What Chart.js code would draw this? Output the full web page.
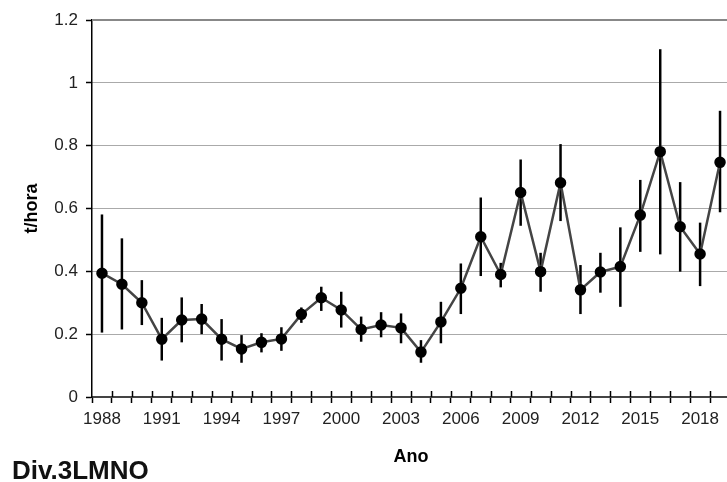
<!DOCTYPE html>
<html>
<head>
<meta charset="utf-8">
<script src="https://cdn.jsdelivr.net/npm/chart.js@4/dist/chart.umd.min.js"></script>
<style>
  html, body { margin: 0; padding: 0; background: #fff; overflow: hidden; }
  #wrap { position: relative; width: 727px; height: 482px; overflow: hidden; }
  #c { display: block; }
  #div-label { position: absolute; left: 12px; top: 455px; font: bold 26px "Liberation Sans", Arial, sans-serif; line-height: 30px; color: #111; }
</style>
</head>
<body>
<div id="wrap">
  <canvas id="c" width="737" height="482"></canvas>
  <div id="div-label">Div.3LMNO</div>
</div>
<script>
  const years = ['1988','1989','1990','1991','1992','1993','1994','1995','1996','1997','1998','1999','2000','2001','2002','2003',
                 '2004','2005','2006','2007','2008','2009','2010','2011','2012','2013','2014','2015','2016','2017','2018','2019'];
  const mean  = [0.394,0.359,0.300,0.184,0.245,0.248,0.184,0.153,0.174,0.185,0.263,0.316,0.277,0.215,0.229,0.220,
                 0.143,0.239,0.346,0.510,0.390,0.651,0.399,0.682,0.341,0.398,0.415,0.579,0.781,0.542,0.455,0.747];
  const lower = [0.205,0.215,0.229,0.116,0.174,0.200,0.116,0.109,0.142,0.147,0.236,0.274,0.221,0.176,0.190,0.171,
                 0.109,0.171,0.264,0.385,0.349,0.545,0.335,0.560,0.264,0.332,0.287,0.462,0.454,0.399,0.353,0.588];
  const upper = [0.581,0.505,0.372,0.252,0.317,0.296,0.248,0.197,0.203,0.222,0.285,0.351,0.335,0.256,0.270,0.266,
                 0.181,0.303,0.425,0.635,0.427,0.756,0.459,0.805,0.420,0.459,0.540,0.691,1.107,0.684,0.555,0.911];
  const yTicks = [0, 0.2, 0.4, 0.6, 0.8, 1, 1.2];

  // vertical error bars, drawn under the line and markers
  const errorBars = {
    id: 'errorBars',
    beforeDatasetsDraw(chart){
      const x = chart.scales.x, y = chart.scales.y, ctx = chart.ctx;
      ctx.save();
      ctx.strokeStyle = '#000';
      ctx.lineWidth = 2.5;
      years.forEach((yr, i) => {
        const px = x.getPixelForValue(i);
        ctx.beginPath();
        ctx.moveTo(px, y.getPixelForValue(lower[i]));
        ctx.lineTo(px, y.getPixelForValue(upper[i]));
        ctx.stroke();
      });
      ctx.restore();
    }
  };

  // solid top gridline and x ticks crossing the axis
  const axisExtras = {
    id: 'axisExtras',
    afterDraw(chart){
      const x = chart.scales.x, y = chart.scales.y, ctx = chart.ctx, a = chart.chartArea;
      ctx.save();
      const top = y.getPixelForValue(yTicks[yTicks.length-1]);
      ctx.strokeStyle = '#888';
      ctx.lineWidth = 2;
      ctx.beginPath(); ctx.moveTo(a.left, top); ctx.lineTo(a.right, top); ctx.stroke();
      ctx.strokeStyle = '#000';
      ctx.lineWidth = 1.5;
      const half = (x.getPixelForValue(1) - x.getPixelForValue(0)) / 2;
      for (let i = 0; i < years.length; i++) {
        const px = Math.round(x.getPixelForValue(i) + half) + 0.5;
        ctx.beginPath(); ctx.moveTo(px, a.bottom - 6); ctx.lineTo(px, a.bottom); ctx.stroke();
      }
      ctx.restore();
    }
  };

  const tickFont = { family: '"Liberation Sans", Arial, sans-serif', size: 17 };

  new Chart(document.getElementById('c'), {
    type: 'line',
    data: {
      labels: years,
      datasets: [{
        data: mean,
        borderColor: '#444',
        borderWidth: 2.5,
        pointBackgroundColor: '#000',
        pointBorderColor: '#000',
        pointRadius: 4.5,
        pointHoverRadius: 4.5,
        tension: 0
      }]
    },
    options: {
      responsive: false,
      animation: false,
      layout: { padding: { top: 20, left: 0, right: 0, bottom: 0 } },
      plugins: { legend: { display: false }, tooltip: { enabled: false } },
      scales: {
        x: {
          type: 'category',
          offset: true,
          afterFit(s){ s.height = 85; },
          grid: { offset: true, drawOnChartArea: false, drawTicks: true, tickLength: 6, tickColor: '#000', tickWidth: 1.5 },
          border: { color: '#444', width: 2 },
          ticks: {
            autoSkip: false, maxRotation: 0, padding: 6, color: '#222', font: tickFont,
            callback(v, i){ return i % 3 === 0 ? years[i] : ''; }
          },
          title: { display: true, text: 'Ano', color: '#000', font: { family: '"Liberation Sans", Arial, sans-serif', size: 18, weight: 'bold' }, padding: { top: 0, bottom: 14 } }
        },
        y: {
          min: 0, max: 1.2,
          afterFit(s){ s.width = 92; },
          afterBuildTicks(s){ s.ticks = yTicks.map(v => ({ value: v })); },
          grid: {
            color: c => (c.tick && (c.tick.value === 0 || c.tick.value === 1.2)) ? 'rgba(0,0,0,0)' : '#555',
            lineWidth: 1, tickLength: 6, tickColor: '#000', tickWidth: 1.5
          },
          border: { color: '#000', width: 1.5, dash: [1, 1] },
          ticks: { padding: 8, color: '#222', font: tickFont, callback(v){ return String(v); } },
          title: { display: true, text: 't/hora', color: '#000', font: { family: '"Liberation Sans", Arial, sans-serif', size: 18, weight: 'bold' }, padding: { top: 21, bottom: 0 } }
        }
      }
    },
    plugins: [errorBars, axisExtras]
  });
</script>
</body>
</html>
